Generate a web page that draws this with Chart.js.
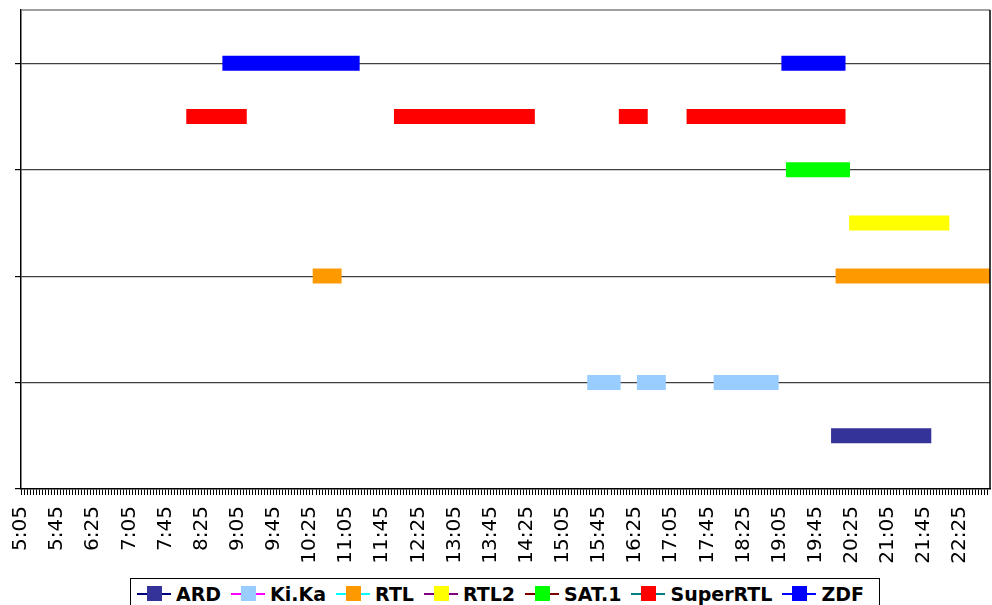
<!DOCTYPE html>
<html>
<head>
<meta charset="utf-8">
<title>Sendeplan</title>
<script src="https://cdn.jsdelivr.net/npm/chart.js@4.4.1/dist/chart.umd.min.js"></script>
<style>
  body { margin: 0; background: #fff; }
  #wrap { position: relative; width: 992px; height: 605px; overflow: hidden; }
  #chart { position: absolute; left: 0; top: 0; }
  #legend {
    position: absolute; left: 130px; top: 578px; width: 742px; height: 40px;
    border: 1.5px solid #000; background: #fff; padding: 4px 0 0 6px;
    display: flex; align-items: flex-start;
    font: bold 19px 'DejaVu Sans', Verdana, sans-serif; line-height: 22px; color: #000;
  }
  .item { display: flex; align-items: center; margin-right: 10px; }
  .mark { position: relative; width: 34px; height: 22px; margin-right: 5px; }
  .mark .ln { position: absolute; left: 0; right: 0; top: 10px; height: 1.5px; }
  .mark .sq { position: absolute; left: 10px; top: 3px; width: 15px; height: 15px; }
</style>
</head>
<body>
<div id="wrap">
  <canvas id="chart" width="992" height="605"></canvas>
  <div id="legend"></div>
</div>
<script>
// channels and their row on the y axis
const channels = ['ARD', 'Ki.Ka', 'RTL', 'RTL2', 'SAT.1', 'SuperRTL', 'ZDF'];
const rows = [0.5, 1, 2, 2.5, 3, 3.5, 4];

// broadcast slots per channel, [start, end]
const ardSlots = [['20:02', '21:53']];
const kikaSlots = [['15:32', '16:09'], ['16:27', '16:59'], ['17:52', '19:04']];
const rtlSlots = [['10:28', '11:00'], ['20:07', '22:58']];
const rtl2Slots = [['20:22', '22:13']];
const sat1Slots = [['19:12', '20:23']];
const superRtlSlots = [['8:08', '9:15'], ['11:58', '14:34'], ['16:07', '16:39'], ['17:22', '20:18']];
const zdfSlots = [['8:48', '11:20'], ['19:07', '20:18']];

const tickLabels = ['5:05', '5:45', '6:25', '7:05', '7:45', '8:25', '9:05', '9:45', '10:25',
    '11:05', '11:45', '12:25', '13:05', '13:45', '14:25', '15:05', '15:45', '16:25', '17:05',
    '17:45', '18:25', '19:05', '19:45', '20:25', '21:05', '21:45', '22:25'];

const slots = [ardSlots, kikaSlots, rtlSlots, rtl2Slots, sat1Slots, superRtlSlots, zdfSlots];
const barColors = ['#333399', '#99CCFF', '#FF9900', '#FFFF00', '#00FF00', '#FF0000', '#0000FF'];
const legendLines = ['#000080', '#FF00FF', '#00FFFF', '#800080', '#800000', '#008080', '#0000FF'];

function toMin(t) {
    const p = t.split(':');
    return parseInt(p[0]) * 60 + parseInt(p[1]);
}

const xMin = toMin(tickLabels[0]);
const xMax = toMin('22:58');
const minorStep = 40 / 12;

function buildData(list, y) {
    const data = [];
    list.forEach((s, i) => {
        if (i > 0) data.push({ x: (toMin(list[i - 1][1]) + toMin(s[0])) / 2, y: null });
        data.push({ x: toMin(s[0]), y: y }, { x: toMin(s[1]), y: y });
    });
    return data;
}

const datasets = channels.map((name, i) => ({
    label: name,
    data: buildData(slots[i], rows[i]),
    borderColor: barColors[i],
    backgroundColor: barColors[i],
    borderWidth: 15,
    borderCapStyle: 'butt',
    pointRadius: 0,
    spanGaps: false,
    tension: 0
}));

// top (grey) and right (black) frame of the plot area
const frame = {
    id: 'frame',
    afterDraw(chart) {
        const { ctx, chartArea: a } = chart;
        ctx.save();
        ctx.lineWidth = 1.5;
        ctx.strokeStyle = '#808080';
        ctx.beginPath();
        ctx.moveTo(a.left, a.top);
        ctx.lineTo(a.right, a.top);
        ctx.stroke();
        ctx.strokeStyle = '#000';
        ctx.beginPath();
        ctx.moveTo(a.right, a.top);
        ctx.lineTo(a.right, a.bottom);
        ctx.stroke();
        ctx.restore();
    }
};

new Chart(document.getElementById('chart'), {
    type: 'line',
    data: { datasets: datasets },
    plugins: [frame],
    options: {
        responsive: false,
        animation: false,
        devicePixelRatio: 1,
        layout: { padding: { top: 10, right: 2, left: 0, bottom: 0 } },
        plugins: { legend: { display: false }, tooltip: { enabled: false } },
        scales: {
            x: {
                type: 'linear',
                min: xMin,
                max: xMax,
                afterBuildTicks: s => {
                    const t = [];
                    for (let i = 0; xMin + i * minorStep <= xMax + 0.01; i++) t.push({ value: xMin + i * minorStep });
                    s.ticks = t;
                },
                afterFit: s => {
                    s.height = 116;
                    s.paddingLeft = 0;
                    s.paddingRight = 0;
                },
                ticks: {
                    autoSkip: false,
                    minRotation: 90,
                    maxRotation: 90,
                    padding: 11,
                    color: '#000',
                    font: { family: 'DejaVu Sans', size: 20 },
                    callback: (v, i) => (i % 12 === 0 && tickLabels[i / 12]) ? tickLabels[i / 12] : ''
                },
                grid: { drawOnChartArea: false, drawTicks: true, tickLength: 6, color: '#000', lineWidth: 1 },
                border: { color: '#000', width: 1.5 }
            },
            y: {
                min: 0,
                max: 4.5,
                afterBuildTicks: s => { s.ticks = [0, 1, 2, 3, 4].map(v => ({ value: v })); },
                afterFit: s => { s.width = 21; },
                ticks: { display: false },
                grid: {
                    color: c => c.tick && c.tick.value === 0 ? 'rgba(0,0,0,0)' : '#404040',
                    tickColor: '#000',
                    tickLength: 6,
                    lineWidth: 1.2
                },
                border: { color: '#000', width: 1.5 }
            }
        }
    }
});

// legend: line with square marker, like the original
const legend = document.getElementById('legend');
channels.forEach((name, i) => {
    const item = document.createElement('div');
    item.className = 'item';
    item.innerHTML = '<span class="mark"><span class="ln" style="background:' + legendLines[i] + '"></span>' +
        '<span class="sq" style="background:' + barColors[i] + '"></span></span><span>' + name + '</span>';
    legend.appendChild(item);
});
</script>
</body>
</html>
